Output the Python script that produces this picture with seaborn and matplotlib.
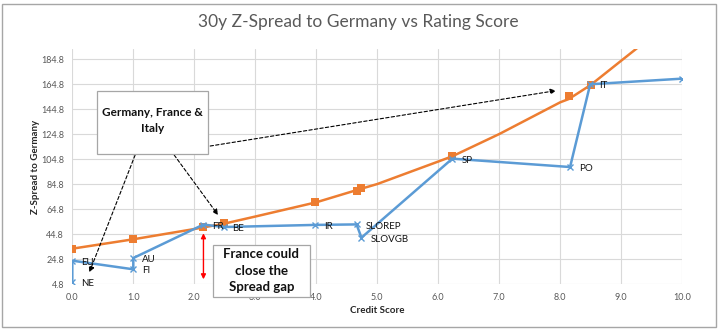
import matplotlib
matplotlib.use("Agg")
import matplotlib.pyplot as plt
from matplotlib.patches import Rectangle
import seaborn as sns
import pandas as pd

# ---------------- data ----------------
blue_labels = ["NE", "EU", "FI", "AU", "FR", "BE", "IR", "SLOREP", "SLOVGB", "SP", "PO", "IT", ""]
blue_x = [0.0, 0.0, 1.0, 1.0, 2.15, 2.48, 3.98, 4.66, 4.74, 6.23, 8.16, 8.49, 10.0]
blue_y = [6.4, 23.7, 16.8, 25.8, 52.6, 50.6, 52.3, 52.7, 42.1, 105.3, 98.6, 164.8, 169.3]

orange_x = [0.0, 0.99, 2.15, 2.48, 3.98, 4.66, 4.74, 6.23, 8.14, 8.50]
orange_y = [33.3, 40.8, 50.4, 53.6, 70.4, 79.7, 81.6, 107.7, 155.4, 164.3]

curve_x = [0.0, 1.0, 2.0, 2.48, 3.0, 4.0, 4.74, 5.0, 6.0, 6.23, 7.0, 8.0, 8.14, 8.5, 9.0, 9.5, 10.0]
curve_y = [33.3, 40.8, 49.0, 53.2, 59.0, 70.4, 81.3, 85.0, 103.0, 107.2, 125.0, 150.4, 153.0, 164.3, 183.7, 203.0, 223.0]

x_ticks = [0, 1, 2, 3, 4, 5, 6, 7, 8, 9, 10]
x_tick_labels = ["0.0", "1.0", "2.0", "3.0", "4.0", "5.0", "6.0", "7.0", "8.0", "9.0", "10.0"]
y_ticks = [4.8, 24.8, 44.8, 64.8, 84.8, 104.8, 124.8, 144.8, 164.8, 184.8]
y_tick_labels = ["4.8", "24.8", "44.8", "64.8", "84.8", "104.8", "124.8", "144.8", "164.8", "184.8"]

title = "30y Z-Spread to Germany vs Rating Score"
box1_text = "Germany, France &\nItaly"
box2_text = "France could\nclose the\nSpread gap"

BLUE = "#5B9BD5"
ORANGE = "#ED7D31"
GRAY_TXT = "#595959"

# ---------------- style ----------------
sns.set_theme(style="white")
plt.rcParams["font.family"] = ["Lato", "DejaVu Sans"]

W, H = 719, 330
fig = plt.figure(figsize=(W / 100, H / 100), dpi=100)
fig.patch.set_facecolor("white")

left_px, right_px, top_px, bottom_px = 72.3, 682.3, 49.0, 284.3
ax = fig.add_axes([left_px / W, 1 - bottom_px / H, (right_px - left_px) / W, (bottom_px - top_px) / H])
ax.set_facecolor("white")

# outer chart border
fig.patches.append(Rectangle((2 / W, 1 - 327 / H), 714 / W, 323 / H, transform=fig.transFigure,
                             fill=False, ec="#A6A6A6", lw=1.0))

df_blue = pd.DataFrame({"x": blue_x, "y": blue_y})
df_orange = pd.DataFrame({"x": orange_x, "y": orange_y})
df_curve = pd.DataFrame({"x": curve_x, "y": curve_y})

sns.lineplot(data=df_curve, x="x", y="y", sort=False, estimator=None, errorbar=None,
             color=ORANGE, lw=1.8, ax=ax, zorder=3)
sns.scatterplot(data=df_orange, x="x", y="y", marker="s", color=ORANGE, s=28, linewidth=0, ax=ax, zorder=4)
sns.lineplot(data=df_blue, x="x", y="y", sort=False, estimator=None, errorbar=None,
             color=BLUE, lw=1.8, ax=ax, zorder=5,
             marker="x", markersize=4, markeredgewidth=1.0, markeredgecolor=BLUE)

ax.set_xlim(0, 10)
ax.set_ylim(4.8, 193.0)
ax.set_xticks(x_ticks)
ax.set_xticklabels(x_tick_labels)
ax.set_yticks(y_ticks)
ax.set_yticklabels(y_tick_labels)
ax.tick_params(axis="both", length=0, labelsize=6.5, labelcolor=GRAY_TXT, pad=6)
ax.grid(True, color="#D9D9D9", lw=0.8)
ax.set_axisbelow(True)
for s in ax.spines.values():
    s.set_visible(False)

ax.set_xlabel("Credit Score", fontsize=7, fontweight="bold", color="#262626")
ax.set_ylabel("Z-Spread to Germany", fontsize=7, fontweight="bold", color="#262626")
ax.xaxis.set_label_coords(0.5, (bottom_px - 310.7) / (bottom_px - top_px))
ax.xaxis.label.set_va("center")
ax.yaxis.set_label_coords((36.0 - left_px) / (right_px - left_px), 0.5)
ax.yaxis.label.set_va("center")
fig.text(358.5 / W, 1 - 22 / H, title, ha="center", va="center", fontsize=12.5, color=GRAY_TXT)

# point labels
for lbl, x, y in zip(blue_labels, blue_x, blue_y):
    if lbl:
        ax.annotate(lbl, (x, y), xytext=(6.5, -1.2), textcoords="offset points",
                    ha="left", va="center", fontsize=7, color="#111111", zorder=6)

# dashed arrows from the "Germany, France & Italy" box
arrow_kw = dict(arrowstyle="-|>", color="black", lw=0.8, linestyle=(0, (3, 2)),
                mutation_scale=8, shrinkA=0, shrinkB=0)
ax.annotate("", xy=(0.28, 14.4), xytext=(1.03, 108.2), arrowprops=arrow_kw, zorder=7)
ax.annotate("", xy=(2.39, 60.2), xytext=(1.67, 108.2), arrowprops=arrow_kw, zorder=7)
ax.annotate("", xy=(7.93, 159.7), xytext=(2.26, 115.4), arrowprops=arrow_kw, zorder=7)

# red double arrow (spread gap)
ax.annotate("", xy=(2.15, 8.8), xytext=(2.15, 45.6),
            arrowprops=dict(arrowstyle="<|-|>", color="red", lw=1.0, mutation_scale=7,
                            shrinkA=0, shrinkB=0), zorder=7)

# text boxes
ax.add_patch(Rectangle((0.41, 109.0), 1.82, 50.7, facecolor="white", edgecolor="#A6A6A6",
                       lw=0.9, zorder=8, clip_on=False))
ax.text(1.32, 136.0, box1_text, ha="center", va="center", fontsize=8.5, fontweight="bold",
        color="#111111", linespacing=1.5, zorder=9)

ax.add_patch(Rectangle((2.30, -5.0), 1.60, 41.5, facecolor="white", edgecolor="#A6A6A6",
                       lw=0.9, zorder=8, clip_on=False))
ax.text(3.10, 15.8, box2_text, ha="center", va="center", fontsize=9.5, fontweight="bold",
        color="#111111", linespacing=1.45, zorder=9)

fig.savefig("out.png", dpi=100)
